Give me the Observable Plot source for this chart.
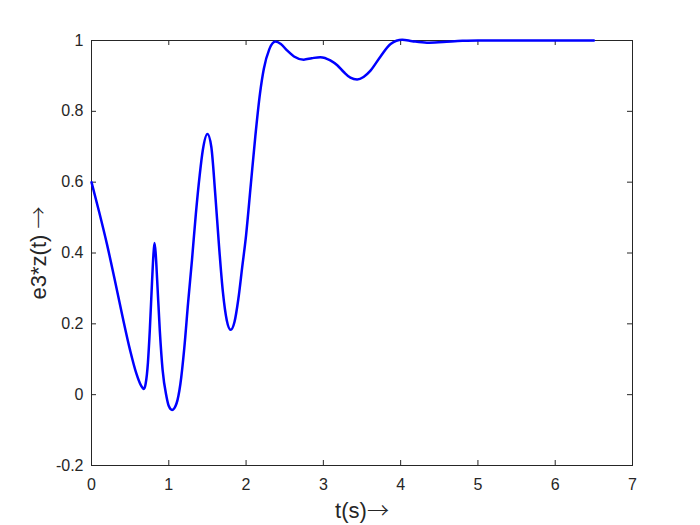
<!DOCTYPE html>
<html>
<head>
<meta charset="utf-8">
<script src="https://cdn.jsdelivr.net/npm/d3@7"></script>
<script src="https://cdn.jsdelivr.net/npm/@observablehq/plot@0.6"></script>
<style>
  html, body { margin: 0; padding: 0; background: #fff; }
  svg { display: block; }
</style>
</head>
<body>
<div id="chart"></div>
<script>
const timeS = [0, 0.1, 0.2, 0.3, 0.4, 0.5, 0.58, 0.64, 0.677, 0.70, 0.73, 0.754, 0.784, 0.80, 0.815, 0.83, 0.85, 0.884, 0.92, 0.97, 1.0, 1.043, 1.10, 1.15, 1.20, 1.25, 1.30, 1.35, 1.40, 1.44, 1.50, 1.55, 1.60, 1.65, 1.70, 1.75, 1.80, 1.85, 1.90, 1.95, 2.0, 2.06, 2.12, 2.18, 2.23, 2.30, 2.38, 2.45, 2.53, 2.62, 2.746, 2.85, 2.96, 3.09, 3.18, 3.264, 3.35, 3.437, 3.52, 3.61, 3.74, 3.87, 4.02, 4.15, 4.34, 4.55, 4.8, 5.0, 5.5, 6.0, 6.5];
const e3z   = [0.6, 0.515, 0.425, 0.325, 0.222, 0.125, 0.06, 0.026, 0.016, 0.03, 0.09, 0.18, 0.322, 0.39, 0.428, 0.40, 0.322, 0.18, 0.07, -0.005, -0.032, -0.043, -0.025, 0.03, 0.13, 0.26, 0.38, 0.51, 0.62, 0.69, 0.736, 0.70, 0.57, 0.42, 0.29, 0.21, 0.183, 0.205, 0.27, 0.36, 0.45, 0.59, 0.73, 0.85, 0.92, 0.975, 0.997, 0.99, 0.972, 0.955, 0.946, 0.95, 0.953, 0.944, 0.93, 0.911, 0.895, 0.890, 0.897, 0.915, 0.955, 0.99, 1.002, 0.998, 0.994, 0.996, 0.999, 1.0, 1.0, 1.0, 1.0];
const xTicks = [0, 1, 2, 3, 4, 5, 6, 7];
const yTicks = [-0.2, 0, 0.2, 0.4, 0.6, 0.8, 1];
const xLabel = "t(s)\u2192";
const yLabel = "e3*z(t) \u2192";

const data = timeS.map((t, i) => ({t, v: e3z[i]}));
const W = 700, H = 525, mL = 91, mR = 68, mT = 40, mB = 60;
const plotH = H - mT - mB, plotW = W - mL - mR;
const ink = "#262626";
const font = "'Liberation Sans', Arial, Helvetica, sans-serif";

const chart = Plot.plot({
  width: W, height: H,
  marginLeft: mL, marginRight: mR, marginTop: mT, marginBottom: mB,
  style: {fontFamily: font, background: "#fff", color: ink},
  x: {domain: [0, 7]},
  y: {domain: [-0.2, 1]},
  marks: [
    Plot.axisX({ticks: xTicks, tickSize: 0, tickPadding: 13, fontSize: 16, label: null, tickFormat: d => String(d)}),
    Plot.axisY({ticks: yTicks, tickSize: 0, tickPadding: 8, fontSize: 16, label: null, tickFormat: d => String(d)}),
    Plot.tickX(xTicks.slice(1, -1), {x: d => d, insetTop: plotH - 5, stroke: ink, strokeWidth: 1}),
    Plot.tickX(xTicks.slice(1, -1), {x: d => d, insetBottom: plotH - 5, stroke: ink, strokeWidth: 1}),
    Plot.tickY(yTicks.slice(1, -1), {y: d => d, insetRight: plotW - 5, stroke: ink, strokeWidth: 1}),
    Plot.tickY(yTicks.slice(1, -1), {y: d => d, insetLeft: plotW - 5, stroke: ink, strokeWidth: 1}),
    Plot.frame({stroke: ink, strokeWidth: 1}),
    Plot.line(data, {x: "t", y: "v", stroke: "#0000ff", strokeWidth: 2.5, curve: "monotone-x"}),
    Plot.text([xLabel], {frameAnchor: "bottom", dy: 52, fontSize: 22, fill: ink, textAnchor: "middle", text: d => d}),
    Plot.text([yLabel], {frameAnchor: "left", dx: -53, rotate: -90, fontSize: 22, fill: ink, textAnchor: "middle", text: d => d})
  ]
});

// render the arrow glyph with a wider, thin arrow font
chart.querySelectorAll("text").forEach(t => {
  if (t.textContent.includes("\u2192") && t.childElementCount === 0) {
    const parts = t.textContent.split("\u2192");
    t.textContent = "";
    const a = document.createElementNS("http://www.w3.org/2000/svg", "tspan");
    a.textContent = parts[0];
    const b = document.createElementNS("http://www.w3.org/2000/svg", "tspan");
    b.textContent = "\u2192";
    b.setAttribute("font-family", "'Noto Sans CJK SC', 'DejaVu Sans', sans-serif");
    b.setAttribute("font-weight", "300");
    t.appendChild(a);
    t.appendChild(b);
  }
});
document.getElementById("chart").appendChild(chart);
</script>
</body>
</html>
